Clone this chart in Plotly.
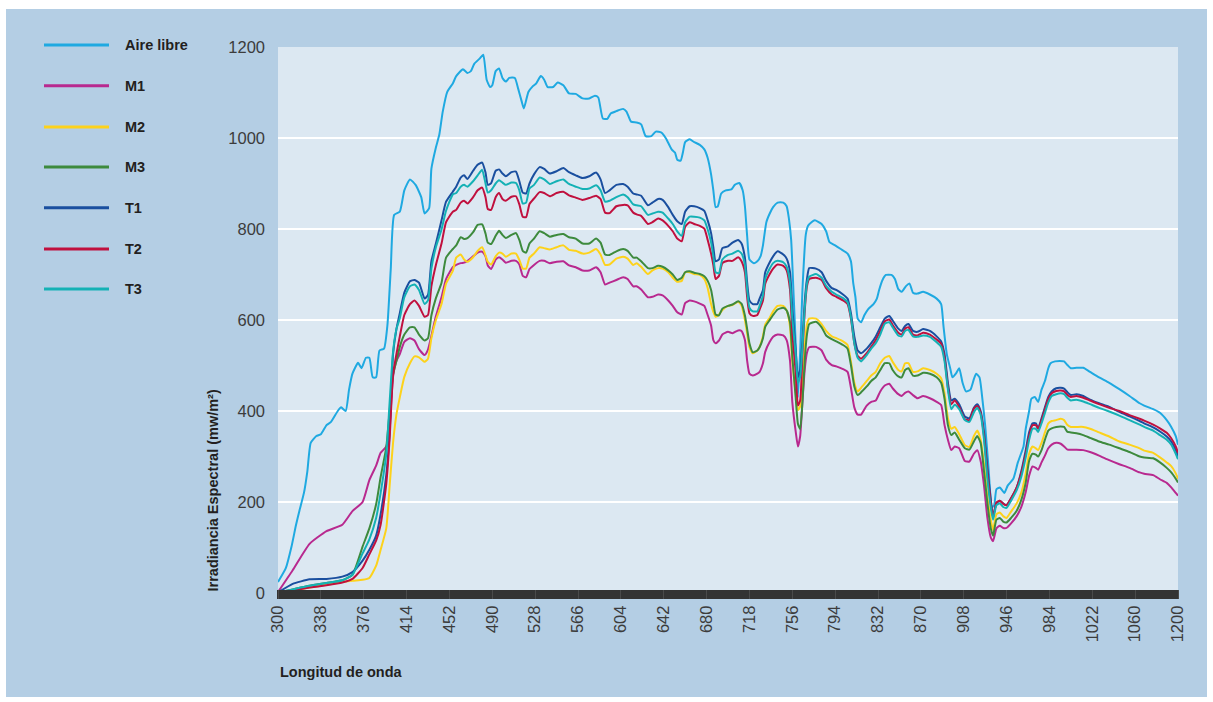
import plotly.graph_objects as go

# Wavelength grid (nm) shared by the six filtered measurements
wl = [300, 313, 328, 343, 357, 366, 375, 381, 387, 391, 396, 399, 402, 405, 408, 412, 417, 421, 425, 430, 433, 436, 440, 445, 449, 455,
      458, 462, 465, 468, 473, 477, 481, 484, 486, 489, 493, 496, 499, 502, 507, 511, 514, 517, 520, 523, 527, 532, 536, 541, 547, 553, 558, 564, 570, 576, 582, 586, 590, 594, 600, 606, 610, 615,
      618, 622, 628, 632, 637, 641, 646, 650, 654, 658, 661, 665, 669, 674, 678, 681, 684, 686, 688, 691, 694, 699, 703, 708, 711, 714, 716, 718, 721, 725, 727, 730, 732, 736, 739, 743, 748, 751, 754, 756, 759, 761, 763, 765, 767, 769, 771,
      777, 782, 786, 791, 795, 801, 805, 808, 811, 814, 817, 822, 826, 830, 834, 838, 842, 845, 850, 853, 856, 859, 863, 867, 872, 878, 884, 888, 891, 894, 897, 900, 904, 909, 913, 917, 920, 923, 926, 929, 932, 934,
      937, 940, 943, 946, 950, 955, 959, 963, 966, 969, 972, 974, 977, 980, 983, 986, 990, 994, 997, 1000, 1003, 1008, 1014, 1020, 1028, 1037, 1046, 1055, 1064, 1068, 1076, 1082, 1088, 1092, 1096, 1098]

m1 = [2, 50, 108, 136, 150, 180, 200, 248, 280, 308, 322, 369, 475, 510, 525, 552, 560, 555, 536, 523, 535, 565, 608, 650, 690, 716,
      721, 725, 726, 730, 740, 748, 750, 740, 720, 712, 733, 738, 733, 726, 730, 730, 722, 697, 694, 712, 721, 730, 730, 725, 728, 729, 720, 716, 709, 709, 716, 705, 678, 682, 688, 694, 690, 674,
      674, 667, 650, 651, 656, 654, 643, 631, 617, 612, 637, 643, 641, 636, 631, 611, 588, 556, 549, 555, 568, 574, 571, 577, 576, 556, 510, 482, 478, 482, 486, 505, 530, 552, 563, 568, 566, 556, 510, 420, 355, 322, 345, 420, 490, 528, 540,
      541, 533, 513, 501, 498, 492, 486, 451, 408, 392, 392, 412, 420, 423, 443, 456, 460, 450, 437, 433, 440, 443, 435, 428, 433, 428, 420, 413, 369, 337, 314, 322, 318, 290, 289, 306, 314, 290, 236, 165, 122, 114,
      142, 148, 143, 143, 153, 169, 189, 222, 258, 278, 275, 271, 287, 302, 318, 326, 330, 328, 322, 315, 315, 315, 314, 310, 302, 292, 283, 275, 265, 262, 259, 250, 242, 232, 220, 214]

m2 = [1, 6, 12, 18, 24, 27, 29, 33, 60, 95, 142, 236, 330, 392, 430, 475, 505, 520, 518, 508, 515, 560, 600, 635, 680, 708,
      737, 744, 733, 728, 738, 752, 760, 742, 728, 722, 740, 748, 746, 739, 746, 746, 732, 713, 713, 737, 746, 760, 758, 755, 760, 764, 754, 752, 746, 748, 756, 744, 721, 722, 735, 739, 735, 721,
      725, 717, 701, 709, 714, 713, 705, 693, 684, 686, 705, 705, 701, 699, 690, 670, 635, 618, 607, 612, 622, 631, 633, 640, 632, 600, 570, 541, 527, 533, 541, 565, 590, 605, 619, 631, 631, 621, 585, 510, 440, 402, 410, 460, 540, 590, 603,
      603, 591, 576, 564, 560, 553, 545, 509, 462, 443, 451, 466, 478, 486, 505, 517, 521, 508, 490, 487, 505, 505, 486, 487, 494, 490, 482, 472, 439, 384, 361, 365, 349, 325, 321, 345, 357, 337, 283, 212, 161, 138,
      173, 177, 169, 165, 179, 197, 220, 263, 306, 322, 318, 314, 330, 353, 373, 378, 380, 383, 380, 369, 365, 365, 365, 361, 353, 344, 333, 326, 318, 313, 308, 298, 287, 279, 263, 251]

m3 = [1, 8, 16, 22, 28, 40, 102, 142, 195, 255, 320, 400, 480, 510, 541, 568, 584, 584, 568, 555, 560, 610, 648, 682, 737, 756,
      764, 782, 778, 780, 793, 809, 810, 790, 770, 767, 785, 796, 787, 780, 787, 791, 776, 752, 748, 768, 779, 795, 791, 783, 787, 789, 782, 779, 768, 768, 779, 770, 744, 743, 751, 756, 752, 737,
      737, 729, 714, 714, 719, 717, 709, 700, 688, 693, 705, 707, 704, 701, 696, 686, 666, 638, 612, 610, 625, 631, 634, 641, 636, 610, 580, 549, 529, 533, 540, 560, 585, 600, 611, 623, 627, 621, 595, 520, 430, 372, 360, 420, 510, 568, 591,
      596, 584, 566, 558, 553, 545, 537, 501, 454, 435, 441, 454, 466, 474, 490, 505, 505, 490, 476, 474, 490, 494, 478, 478, 484, 482, 474, 462, 427, 369, 347, 353, 337, 318, 315, 333, 345, 330, 267, 197, 142, 126,
      161, 165, 157, 155, 165, 181, 204, 243, 290, 306, 304, 300, 314, 337, 357, 362, 365, 366, 365, 354, 353, 351, 347, 341, 333, 326, 318, 310, 300, 298, 296, 287, 275, 265, 251, 243]

t1 = [1, 20, 30, 31, 36, 46, 71, 95, 126, 173, 259, 353, 525, 580, 615, 660, 685, 688, 682, 647, 655, 729, 768, 819, 860, 882,
      893, 913, 918, 910, 928, 941, 946, 924, 897, 901, 928, 931, 922, 916, 925, 926, 905, 880, 878, 900, 920, 936, 932, 922, 927, 934, 925, 918, 912, 916, 924, 909, 879, 885, 897, 899, 893, 878,
      876, 873, 852, 858, 866, 864, 848, 831, 817, 811, 838, 850, 850, 846, 840, 819, 791, 760, 729, 733, 758, 762, 770, 776, 768, 737, 682, 643, 635, 635, 647, 666, 705, 727, 740, 751, 744, 735, 705, 627, 533, 475, 490, 555, 640, 690, 714,
      713, 705, 686, 670, 666, 656, 647, 615, 564, 533, 527, 537, 549, 564, 584, 603, 609, 599, 581, 576, 587, 591, 576, 574, 580, 576, 564, 553, 525, 462, 423, 427, 415, 388, 384, 407, 415, 400, 353, 275, 205, 169,
      197, 203, 197, 193, 208, 232, 267, 314, 353, 373, 373, 362, 384, 408, 431, 443, 450, 451, 449, 441, 435, 437, 433, 425, 417, 409, 398, 388, 378, 373, 364, 355, 344, 333, 314, 300]

t2 = [1, 6, 12, 17, 23, 31, 55, 85, 115, 150, 240, 340, 480, 525, 564, 611, 635, 643, 631, 607, 611, 674, 721, 768, 815, 838,
      842, 858, 862, 856, 870, 885, 891, 870, 844, 842, 870, 879, 866, 862, 871, 872, 854, 827, 826, 855, 867, 881, 879, 872, 879, 882, 874, 869, 864, 868, 873, 866, 836, 835, 850, 853, 852, 836,
      832, 829, 811, 815, 823, 819, 807, 795, 779, 773, 805, 815, 811, 807, 801, 776, 746, 721, 690, 697, 725, 730, 730, 738, 729, 705, 650, 615, 609, 611, 623, 643, 680, 701, 713, 722, 719, 709, 666, 572, 486, 412, 423, 525, 619, 674, 690,
      693, 688, 670, 656, 651, 643, 635, 603, 549, 521, 515, 527, 541, 556, 576, 597, 601, 589, 572, 568, 581, 584, 568, 566, 572, 568, 557, 548, 517, 451, 415, 423, 409, 382, 380, 405, 411, 396, 345, 263, 197, 165,
      199, 203, 196, 193, 208, 232, 263, 306, 345, 369, 369, 361, 380, 404, 427, 439, 444, 445, 443, 435, 431, 433, 429, 423, 415, 407, 400, 391, 383, 379, 370, 362, 352, 340, 322, 308]

t3 = [1, 8, 16, 22, 28, 40, 87, 118, 165, 220, 306, 420, 530, 580, 604, 650, 674, 678, 666, 635, 643, 713, 760, 799, 840, 876,
      879, 893, 897, 893, 905, 918, 930, 900, 880, 885, 900, 907, 902, 897, 902, 901, 885, 856, 858, 889, 897, 913, 909, 899, 905, 909, 899, 893, 888, 889, 896, 885, 860, 862, 870, 876, 870, 854,
      852, 850, 831, 834, 838, 836, 823, 811, 795, 785, 815, 827, 827, 825, 819, 799, 771, 740, 705, 703, 733, 743, 746, 752, 746, 721, 666, 627, 619, 619, 631, 654, 690, 713, 725, 730, 727, 717, 682, 604, 525, 462, 475, 540, 625, 680, 695,
      701, 693, 675, 662, 656, 648, 639, 607, 549, 517, 509, 523, 537, 549, 568, 592, 595, 584, 566, 564, 576, 578, 564, 563, 566, 563, 551, 541, 509, 447, 404, 414, 404, 380, 376, 397, 407, 392, 337, 251, 189, 161,
      193, 197, 189, 187, 203, 226, 255, 298, 337, 361, 361, 354, 373, 396, 419, 433, 437, 439, 437, 429, 423, 425, 421, 415, 407, 399, 390, 380, 370, 365, 357, 347, 337, 326, 306, 294]

# Open-air reference spectrum, sampled on its own wavelength grid
air_wl = [300, 307, 312, 316, 319, 323, 326, 329, 334, 338, 343, 347, 353, 356, 360, 363, 366, 371, 374, 378, 381, 384, 387, 390, 394, 397,
          400, 403, 408, 412, 417, 422, 427, 430, 434, 436, 440, 443, 446, 450, 455,
          458, 464, 468, 471, 474, 479, 482, 485, 488, 490, 493, 496, 499, 502, 505, 510, 513, 516, 518, 522, 526, 529, 533, 536, 539, 544, 548, 553,
          558, 564, 570, 576, 581, 584, 588, 592, 595, 600, 606, 609, 613,
          618, 622, 626, 631, 635, 640, 644, 649, 652, 654, 657, 659, 661, 665, 669, 674, 678, 681, 684, 686, 688, 690, 693, 697, 702, 705, 709, 712,
          714, 716, 718, 722, 725, 728, 730, 733, 736, 739, 743, 748, 751, 753, 755, 757, 759, 761, 763, 765, 768, 770, 773, 776,
          782, 786, 789, 794, 799, 805, 808, 810, 812, 814, 817, 820, 823, 828, 831, 833, 836, 839, 844, 847, 850, 853, 857, 860, 863, 867, 872, 878,
          884, 888, 890, 893, 896, 898, 901, 904, 907, 910, 914, 917, 919, 922, 924, 927, 930, 933, 935,
          937, 940, 944, 947, 952, 956, 961, 963, 966, 968, 971, 974, 977, 980, 983, 985, 989, 993, 997, 1000, 1003, 1008, 1014, 1020, 1028, 1037,
          1046, 1055, 1064, 1068, 1076, 1082, 1088, 1092, 1096, 1098]

air = [24, 55, 102, 150, 181, 220, 267, 330, 345, 349, 369, 376, 400, 408, 400, 447, 482, 506, 494, 517, 517, 474, 474, 533, 537, 588,
       713, 831, 838, 885, 909, 897, 870, 834, 846, 932, 979, 1007, 1057, 1101, 1120,
       1136, 1151, 1143, 1147, 1163, 1175, 1183, 1128, 1112, 1116, 1147, 1153, 1132, 1124, 1132, 1132, 1108, 1081, 1065, 1101, 1114, 1120, 1136, 1128, 1112, 1112, 1122, 1116,
       1098, 1097, 1087, 1087, 1093, 1089, 1043, 1042, 1054, 1059, 1064, 1058, 1036,
       1034, 1030, 1004, 1004, 1014, 1012, 999, 975, 968, 952, 950, 968, 991, 997, 991, 985, 975, 956, 920, 885, 848, 850, 878, 885, 887, 897, 901, 885,
       850, 784, 733, 725, 729, 741, 764, 815, 834, 848, 858, 858, 850, 823, 776, 666, 549, 430, 530, 666, 788, 807, 815, 819,
       811, 795, 771, 764, 756, 746, 729, 682, 650, 603, 595, 611, 623, 635, 647, 666, 688, 699, 699, 690, 668, 662, 675, 680, 660, 658, 662, 656,
       647, 635, 588, 525, 494, 474, 482, 494, 462, 443, 447, 470, 482, 474, 439, 369, 275, 189, 193,
       228, 232, 220, 236, 251, 287, 322, 361, 400, 427, 431, 420, 447, 466, 494, 505, 509, 510, 509, 501, 494, 495, 495, 486, 474, 462,
       448, 433, 417, 412, 404, 396, 380, 365, 345, 326]

# Axis ticks: every 38 nm, last label marks the end of the scale
x_tickvals = [300 + 38 * k for k in range(22)]
x_ticktext = [str(v) for v in x_tickvals[:-1]] + ["1200"]
y_tickvals = [0, 200, 400, 600, 800, 1000, 1200]

names = ["Aire libre", "M1", "M2", "M3", "T1", "T2", "T3"]
colors = ["#1fa9e1", "#b8298f", "#fdd21b", "#3d8a3d", "#1a4f9f", "#c0103e", "#14b1b5"]
xs = [air_wl, wl, wl, wl, wl, wl, wl]
ys = [air, m1, m2, m3, t1, t2, t3]

for n, x, y in zip(names, xs, ys):
    if len(x) != len(y):
        raise ValueError(f"{n}: {len(x)} x vs {len(y)} y")

W, H = 1213, 702
L, R, T, B = 278, 1178, 47, 593          # plot area in pixels
PW, PH = R - L, B - T


def px(xp):
    return (xp - L) / PW


def py(yp):
    return (B - yp) / PH


fig = go.Figure()
for n, x, y, c in zip(names, xs, ys, colors):
    fig.add_trace(go.Scatter(x=x, y=y, name=n, mode="lines",
                             line=dict(color=c, width=2, shape="spline", smoothing=0.5),
                             showlegend=False, hoverinfo="skip"))

tick_font = dict(family="Liberation Sans, Arial, sans-serif", size=16.5, color="#3c3c3c")
bold_font = dict(family="Liberation Sans, Arial, sans-serif", size=14.5, color="#231f20")

shapes = []
annotations = []

# White frame around the coloured panel
for x0, y0, x1, y1 in [(0, 0, W, 9), (0, 0, 6, H), (W - 6, 0, W, H), (0, H - 5, W, H)]:
    shapes.append(dict(type="rect", xref="paper", yref="paper",
                       x0=px(x0), x1=px(x1), y0=py(y1), y1=py(y0),
                       fillcolor="white", line=dict(width=0), layer="below"))

# Hand-placed legend on the left side of the panel
legend_rows = [45, 85.7, 127, 167, 207.7, 249, 289]
for n, c, yr in zip(names, colors, legend_rows):
    shapes.append(dict(type="line", xref="paper", yref="paper",
                       x0=px(44), x1=px(109), y0=py(yr), y1=py(yr),
                       line=dict(color=c, width=3)))
    annotations.append(dict(text=f"<b>{n}</b>", xref="paper", yref="paper",
                            x=px(123), y=py(yr), xanchor="left", yanchor="middle",
                            showarrow=False, font=bold_font))

annotations.append(dict(text="<b>Irradiancia Espectral (mw/m²)</b>", xref="paper", yref="paper",
                        x=px(212), y=py(490.5), xanchor="center", yanchor="middle",
                        textangle=-90, showarrow=False, font=bold_font))
annotations.append(dict(text="<b>Longitud de onda</b>", xref="paper", yref="paper",
                        x=px(278), y=py(671.5), xanchor="left", yanchor="middle",
                        showarrow=False, font=bold_font))

fig.update_layout(
    width=W, height=H,
    margin=dict(l=L, r=W - R, t=T, b=H - B, pad=0),
    paper_bgcolor="#b4cee4",
    plot_bgcolor="#dce8f2",
    showlegend=False,
    shapes=shapes,
    annotations=annotations,
    xaxis=dict(
        range=[300, 1098], anchor="free", position=4 / PH,
        tickmode="array", tickvals=x_tickvals, ticktext=x_ticktext,
        tickangle=-90, tickfont=tick_font,
        ticks="outside", ticklen=9, tickwidth=1, tickcolor="#4a4a4a",
        minor=dict(ticks="outside", ticklen=9, tickmode="linear", tick0=300, dtick=1,
                   tickcolor="#333333", tickwidth=2, showgrid=False),
        showgrid=False, zeroline=False, showline=False,
    ),
    yaxis=dict(
        range=[0, 1200], tickmode="array", tickvals=y_tickvals,
        tickfont=tick_font, ticks="", ticklabelstandoff=12,
        showgrid=True, gridcolor="white", gridwidth=2,
        zeroline=False, showline=False,
    ),
)

fig.write_html("out.html")
